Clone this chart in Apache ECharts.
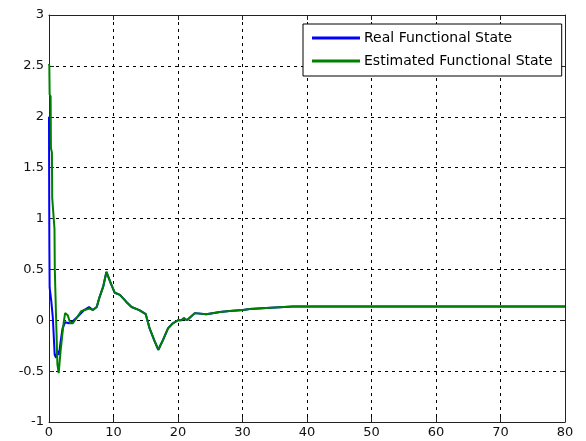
<!DOCTYPE html>
<html>
<head>
<meta charset="utf-8">
<script src="https://cdn.jsdelivr.net/npm/echarts@6/dist/echarts.min.js"></script>
<style>
html,body{margin:0;padding:0;background:#fff;}
#chart{width:586px;height:441px;}
</style>
</head>
<body>
<div id="chart"></div>
<script>
// Time samples and state values for the two traces
const realX = [0, 0.03, 0.06, 0.1, 0.35, 0.6, 0.88, 1.1, 1.3, 1.55, 1.8, 2.1, 2.5, 3.1, 3.7, 4.5, 5.45, 6.2, 6.8, 7.4, 7.8, 8.4, 8.9, 9.2, 9.6, 10.2, 11, 12, 12.8, 14, 15, 15.6, 16.4, 16.95, 17.7, 18.45, 19.2, 20, 20.5, 20.9, 21.4, 21.9, 22.6, 24.4, 26.5, 28, 30.1, 31.1, 33.7, 37.8, 40, 80];
const realY = [2.0, 1.2, 0.7, 0.32, 0.19, 0.02, -0.34, -0.37, -0.3, -0.34, -0.21, -0.08, -0.02, -0.03, -0.01, 0.04, 0.1, 0.13, 0.1, 0.13, 0.22, 0.33, 0.475, 0.47, 0.36, 0.27, 0.25, 0.18, 0.13, 0.1, 0.06, -0.08, -0.21, -0.29, -0.19, -0.08, -0.03, 0.0, 0.0, 0.02, 0.0, 0.03, 0.07, 0.06, 0.08, 0.09, 0.1, 0.11, 0.12, 0.135, 0.135, 0.135];
const estX = [0, 0.05, 0.1, 0.25, 0.3, 0.45, 0.5, 0.85, 0.9, 1.1, 1.3, 1.5, 1.65, 1.8, 2.07, 2.28, 2.5, 2.9, 3.3, 3.7, 4.25, 5.0, 5.5, 6.3, 6.8, 7.4, 7.8, 8.4, 8.9, 9.2, 9.6, 10.2, 11, 12, 12.8, 14, 15, 15.6, 16.4, 16.95, 17.7, 18.45, 19.2, 20, 20.5, 20.9, 21.4, 21.9, 22.6, 24.4, 26.5, 28, 30.1, 31.1, 33.7, 37.8, 40, 80];
const estY = [2.52, 2.5, 2.22, 2.2, 1.69, 1.65, 1.2, 0.9, 0.5, 0.02, -0.43, -0.52, -0.52, -0.3, -0.14, -0.02, 0.07, 0.05, -0.03, -0.03, 0.02, 0.09, 0.1, 0.115, 0.1, 0.13, 0.22, 0.33, 0.475, 0.47, 0.36, 0.27, 0.25, 0.18, 0.13, 0.1, 0.06, -0.08, -0.21, -0.29, -0.19, -0.08, -0.03, 0.0, 0.0, 0.02, 0.0, 0.03, 0.07, 0.06, 0.08, 0.09, 0.1, 0.11, 0.12, 0.135, 0.135, 0.135];
const seriesNames = ['Real Functional State', 'Estimated Functional State'];

const pairs = (xs, ys) => xs.map((x, i) => [x, ys[i]]);
const font = '"DejaVu Sans", Verdana, sans-serif';
const gridLine = { show: true, lineStyle: { color: '#000', type: [3, 4], width: 1 } };
const frame = { show: true, onZero: false, lineStyle: { color: '#222', width: 1 } };
const tick = { show: true, inside: true, length: 5, lineStyle: { color: '#222' } };

const chart = echarts.init(document.getElementById('chart'));
chart.setOption({
  animation: false,
  backgroundColor: '#fff',
  grid: { left: 49, right: 21, top: 15, bottom: 19 },
  xAxis: [
    { type: 'value', min: 0, max: 80, interval: 10, axisLine: frame, axisTick: tick,
      splitLine: gridLine,
      axisLabel: { color: '#111', fontFamily: font, fontSize: 13, margin: 4 } },
    { type: 'value', position: 'top', min: 0, max: 80, interval: 10, axisLine: frame,
      axisTick: tick, splitLine: { show: false }, axisLabel: { show: false } }
  ],
  yAxis: [
    { type: 'value', min: -1, max: 3, interval: 0.5, axisLine: frame, axisTick: tick,
      splitLine: gridLine,
      axisLabel: { color: '#111', fontFamily: font, fontSize: 13, margin: 5 } },
    { type: 'value', position: 'right', min: -1, max: 3, interval: 0.5, axisLine: frame,
      axisTick: tick, splitLine: { show: false }, axisLabel: { show: false } }
  ],
  legend: {
    orient: 'vertical', left: 303, top: 24,
    backgroundColor: '#fff', borderColor: '#000', borderWidth: 1,
    padding: [6, 9, 7, 9], itemGap: 7,
    itemWidth: 48, itemHeight: 3, icon: 'rect',
    textStyle: { color: '#000', fontFamily: font, fontSize: 14, lineHeight: 16, padding: [0, 0, 0, -1] },
    data: seriesNames
  },
  series: [
    { name: seriesNames[0], type: 'line', showSymbol: false, color: '#0000ff',
      lineStyle: { width: 2 }, data: pairs(realX, realY) },
    { name: seriesNames[1], type: 'line', showSymbol: false, color: '#008000',
      lineStyle: { width: 2 }, data: pairs(estX, estY) }
  ]
});
</script>
</body>
</html>
